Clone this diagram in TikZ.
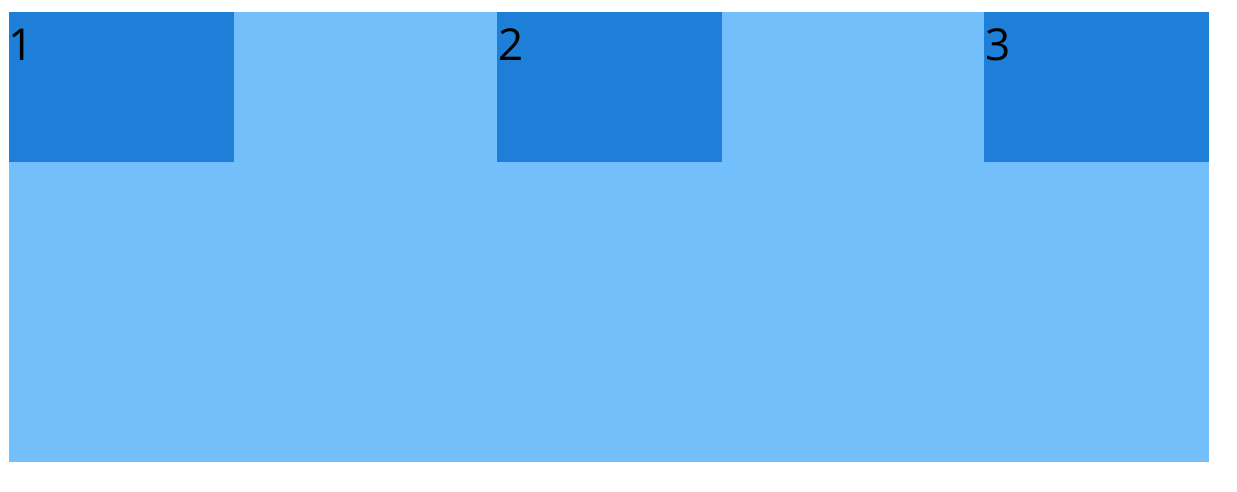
\documentclass[tikz,border=0pt]{standalone}
\usepackage{fontspec}
\setmainfont{Open Sans}
\definecolor{lightb}{HTML}{73BFFB}
\definecolor{darkb}{HTML}{1E7FD8}
\begin{document}
\begin{tikzpicture}[x=1pt,y=-1pt,
  box/.style={fill=darkb,draw=none},
  lbl/.style={anchor=base west,inner sep=0pt,font=\fontsize{44}{48}\selectfont}]
\useasboundingbox (0,0) rectangle (1237,491);
\fill[white] (0,0) rectangle (1237,491);
\fill[lightb] (9,12) rectangle (1209,462);
\fill[box] (9,12) rectangle (234,162);
\fill[box] (497,12) rectangle (722,162);
\fill[box] (984,12) rectangle (1209,162);
\node[lbl] (n1) at (8,60) {1};
\node[lbl] (n2) at (498,60) {2};
\node[lbl] (n3) at (985,60) {3};
\end{tikzpicture}
\end{document}
